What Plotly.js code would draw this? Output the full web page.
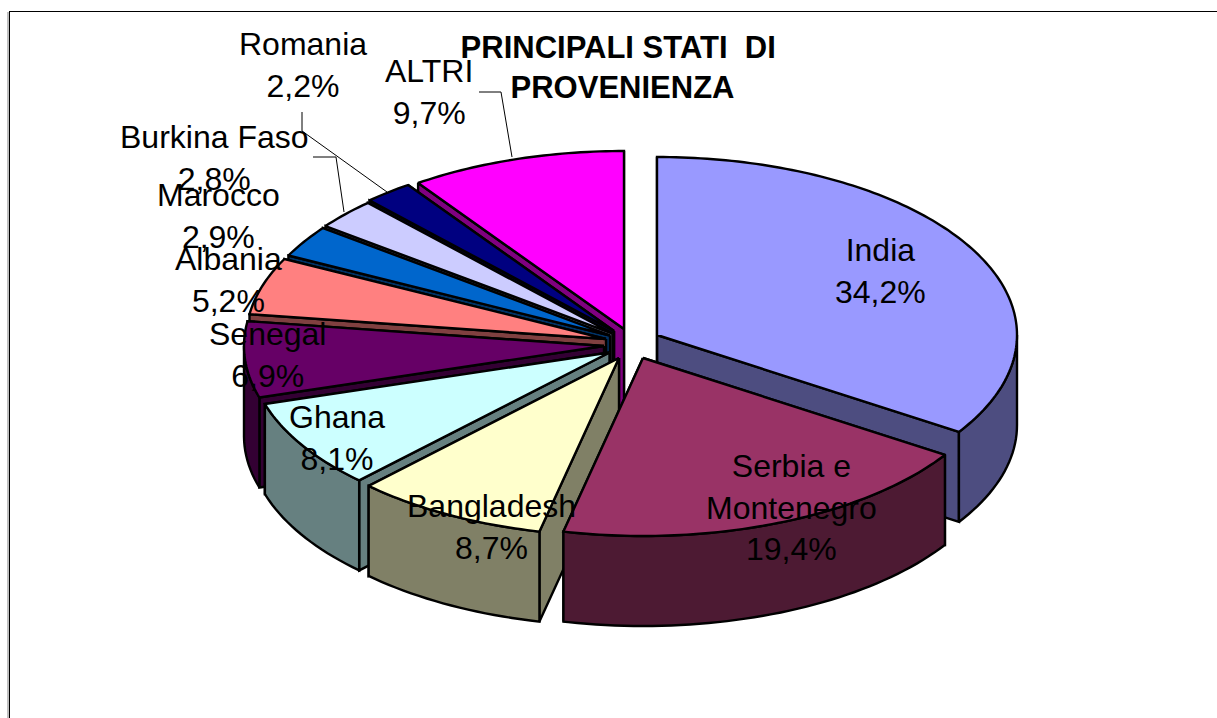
<!DOCTYPE html>
<html>
<head>
<meta charset="utf-8">
<script src="https://cdn.plot.ly/plotly-3.0.1.min.js"></script>
<style>html,body{margin:0;padding:0;background:#fff;overflow:hidden}#chart{width:1217px;height:718px}</style>
</head>
<body>
<div id="chart"></div>
<script>
// Data
const categories = ["India","Serbia e<br>Montenegro","Bangladesh","Ghana","Senegal","Albania","Marocco","Burkina Faso","Romania","ALTRI"];
const shares = [34.2,19.4,8.7,8.1,6.9,5.2,2.9,2.8,2.2,9.7];
const topColors = ["#9999FF","#993366","#FFFFCC","#CCFFFF","#660066","#FF8080","#0066CC","#CCCCFF","#000080","#FF00FF"];
const wallColors = ["#4D4D80","#4D1A33","#808066","#668080","#330033","#804040","#003366","#666680","#000040","#800080"];

// Projection of the tilted, exploded pie
const RX = 360, RY = 178, DEPTH = 90;
const apexX = [657,643,619,609.5,604,606,610,612.5,614,624];
const apexY = [335,358,358,352.5,346,339,335.5,333.5,331,329];
const paintOrder = [0,9,8,7,6,5,4,3,2,1];
const labelX = [880,791,491,337,267,228,218,214,302.5,429];
const labelY = [271,507,527,438,355,280,216,158,65,92];

const total = shares.reduce((a,b)=>a+b,0);
const startAngles = [];
let run = 0;
shares.forEach(s=>{startAngles.push(run); run += s/total*360;});
const rad = d=>d*Math.PI/180;
const rimX = (i,a)=>apexX[i]+RX*Math.sin(rad(a));
const rimY = (i,a)=>apexY[i]-RY*Math.cos(rad(a));

const traces = [];
function poly(xs,ys,fill){
  traces.push({type:'scatter',mode:'lines',x:xs.concat(xs[0]),y:ys.concat(ys[0]),fill:'toself',fillcolor:fill,
    line:{color:'#000',width:2.4,simplify:false},hoverinfo:'skip',showlegend:false});
}
function line(xs,ys){
  traces.push({type:'scatter',mode:'lines',x:xs,y:ys,line:{color:'#000',width:1},hoverinfo:'skip',showlegend:false});
}
paintOrder.forEach(i=>{
  const a0 = startAngles[i], a1 = a0 + shares[i]/total*360;
  // radial walls: the closing one first, so the opening one stays in front of it
  [a1,a0].forEach(a=>{
    const rx = rimX(i,a), ry = rimY(i,a);
    poly([apexX[i],rx,rx,apexX[i]],[apexY[i],ry,ry+DEPTH,apexY[i]+DEPTH],wallColors[i]);
  });
  // outer rim wall, only the part that faces the viewer
  const w0 = Math.max(a0,90), w1 = Math.min(a1,270);
  if (w1 > w0){
    const xs=[],ys=[],xb=[],yb=[];
    for(let a=w0;;a+=1.5){
      const t=Math.min(a,w1);
      xs.push(rimX(i,t)); ys.push(rimY(i,t));
      xb.unshift(rimX(i,t)); yb.unshift(rimY(i,t)+DEPTH);
      if(t>=w1) break;
    }
    poly(xs.concat(xb),ys.concat(yb),wallColors[i]);
  }
  // top face
  const tx=[apexX[i]],ty=[apexY[i]];
  for(let a=a0;;a+=1){
    const t=Math.min(a,a1);
    tx.push(rimX(i,t)); ty.push(rimY(i,t));
    if(t>=a1) break;
  }
  poly(tx,ty,topColors[i]);
});

// Leader lines
line([302,302,387],[112,131,192]);
line([313,336,344],[157,157,212]);
line([479,501,512],[92,92,157]);

const fmt = v=>v.toFixed(1).replace('.',',')+'%';
const annotations = categories.map((c,i)=>({
  xref:'x',yref:'y',x:labelX[i],y:labelY[i],xanchor:'center',yanchor:'middle',showarrow:false,
  text:c+'<br>'+fmt(shares[i]),font:{family:'"Liberation Sans",Arial,sans-serif',size:32,color:'#000'}
}));

const layout = {
  width:1217,height:718,margin:{l:0,r:0,t:0,b:0},paper_bgcolor:'#fff',plot_bgcolor:'#fff',showlegend:false,
  xaxis:{range:[0,1217],visible:false,fixedrange:true},
  yaxis:{range:[718,0],visible:false,fixedrange:true},
  title:{text:'PRINCIPALI STATI\u00a0 DI\u00a0<br>PROVENIENZA',x:622.5/1217,xanchor:'center',y:1-58/718,yanchor:'middle',
    font:{family:'"Liberation Sans",Arial,sans-serif',size:31,color:'#000',weight:700}},
  annotations,
  shapes:[
    {type:'line',xref:'x',yref:'y',x0:8,x1:8,y0:12,y1:718,line:{color:'#808080',width:1}},
    {type:'line',xref:'x',yref:'y',x0:9.5,x1:9.5,y0:11.5,y1:718,line:{color:'#000',width:1}},
    {type:'line',xref:'x',yref:'y',x0:9,x1:1217,y0:11.5,y1:11.5,line:{color:'#000',width:1}}
  ]
};
Plotly.newPlot('chart',traces,layout,{displayModeBar:false,staticPlot:true});
</script>
</body>
</html>
